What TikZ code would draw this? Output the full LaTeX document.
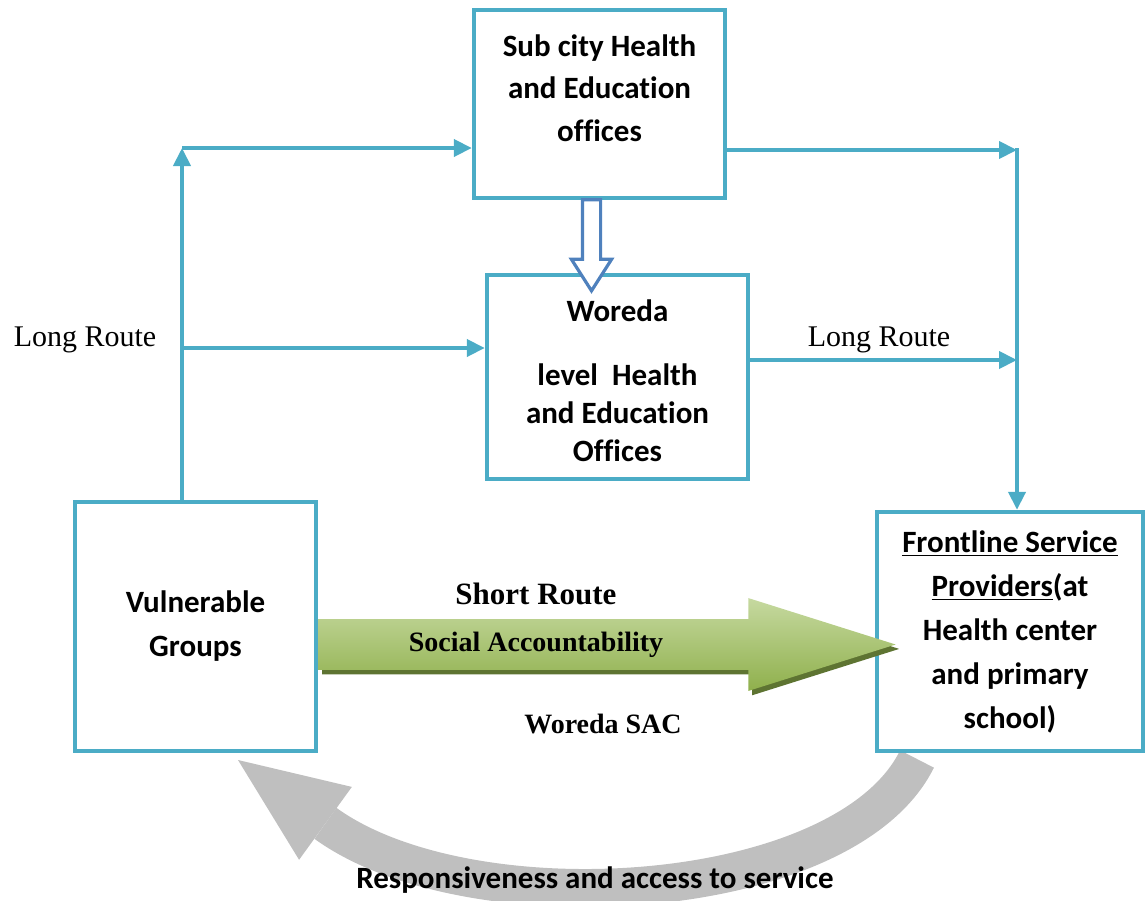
\documentclass[tikz,border=0pt]{standalone}
\usepackage{fontspec}
\setmainfont{Liberation Serif}
\newfontfamily\calibri[Ligatures=NoCommon]{Carlito}
\usepackage{tikz}
\usetikzlibrary{arrows.meta,positioning,shapes.arrows,shadows,calc}
\definecolor{aqua}{HTML}{4BACC6}
\definecolor{steel}{HTML}{4F81BD}
\definecolor{oliveL}{HTML}{C6D9A0}
\definecolor{oliveD}{HTML}{8FB04C}
\definecolor{oliveS}{HTML}{5E7432}
\definecolor{ash}{HTML}{BFBFBF}
\tikzset{
  officebox/.style={
    rectangle, draw=aqua, fill=white, line width=2.2pt,
    minimum width=#1, inner sep=0pt
  },
  boxtext/.style={
    font=\calibri\bfseries\fontsize{15.5}{#1}\selectfont, align=center,
    inner sep=0pt
  },
  boxtext/.default=22pt,
  linkarrow/.style={
    -{Triangle[length=9pt,width=8.5pt]}, draw=aqua, line width=2pt
  },
  routelabel/.style={
    font=\fontsize{15}{18}\selectfont, inner sep=0pt
  },
  % ── arrows drawn as shapes ──
  shortarrow/.style={
    single arrow, single arrow head extend=10.5pt, single arrow tip angle=35,
    minimum height=288.5pt, inner xsep=0pt, inner ysep=12.5pt,
    top color=oliveL, bottom color=oliveD, draw=none,
    drop shadow={shadow xshift=1.8pt, shadow yshift=-2.2pt, fill=oliveS, opacity=1}
  },
  downarrow/.style={
    single arrow, single arrow head extend=5.5pt, single arrow tip angle=65,
    minimum height=45.5pt, inner xsep=0pt, inner ysep=3.75pt,
    draw=steel, line width=1.6pt, fill=white, rotate=-90
  },
  feedbackarrow/.style={
    draw=ash, line width=19pt,
    -{Triangle[length=54pt,width=45pt,line width=0pt]}
  },
  sacfont/.style={font=\bfseries\fontsize{#1}{#1}\selectfont, inner sep=0pt},
}

\begin{document}
\begin{tikzpicture}[x=0.5pt, y=-0.5pt]
    \useasboundingbox (0,0) rectangle (1145,900);

    % FEEDBACK: back from the providers to the groups
    \coordinate (fbstart) at (917,759);
    \coordinate (fbend) at (238,760);
    \draw[feedbackarrow] (fbstart) .. controls (845,905) and (470,928) .. (fbend);
    \node[boxtext] (resp) at (595,880) {Responsiveness and access to service};

    % OFFICES
    \node[officebox=125.5pt, minimum height=94pt] (sub) at (599.5,104) {};
    \node[boxtext=21.3pt] (subtxt) at ([yshift=8pt]sub.center) {Sub city Health\\and Education\\offices};

    \node[officebox=130.5pt, minimum height=102pt, boxtext=19pt] (woreda) at (617.5,377)
        {\rule{0pt}{15pt}Woreda\\[13pt]level~ Health\\and Education\\Offices};

    \node[downarrow, anchor=tail] (down) at ([xshift=-4pt,yshift=1pt]sub.south) {};

    % GROUPS AND PROVIDERS
    \node[officebox=120.5pt, minimum height=124.5pt, boxtext] (vuln) at (195.5,626.5)
        {Vulnerable\\Groups};
    \node[officebox=133pt, minimum height=119.5pt, boxtext] (front) at (1010,631.5)
        {\underline{Frontline Service}\\\underline{Providers}(at\\Health center\\and primary\\school)};

    % LONG ROUTE
    \coordinate (jTop) at (182,148);
    \coordinate (jMid) at (182,348);
    \coordinate (jRT) at (1017,150);
    \coordinate (jRM) at (1017,360);

    \draw[linkarrow] (vuln.north -| jTop) -- (jTop);
    \draw[linkarrow] (jTop) -- (jTop -| sub.west);
    \draw[linkarrow] (jMid) -- (jMid -| woreda.west);
    \draw[linkarrow] (sub.east |- jRT) -- (jRT);
    \draw[linkarrow] ([yshift=1pt]jRT) -- (jRT |- front.north);
    \draw[linkarrow] (woreda.east |- jRM) -- (jRM);

    \node[routelabel] (longl) at (85,340) {Long Route};
    \node[routelabel] (longr) at (879,340) {Long Route};

    % SHORT ROUTE
    \node[shortarrow, anchor=tail] (short) at ([yshift=-9pt]vuln.east) {};
    \node[sacfont=15.5] (shortlbl) at (536,594) {Short Route};
    \node[sacfont=14] (social) at (536,645) {Social Accountability};
    \node[sacfont=14] (sac) at (603,724) {Woreda SAC};
\end{tikzpicture}
\end{document}
